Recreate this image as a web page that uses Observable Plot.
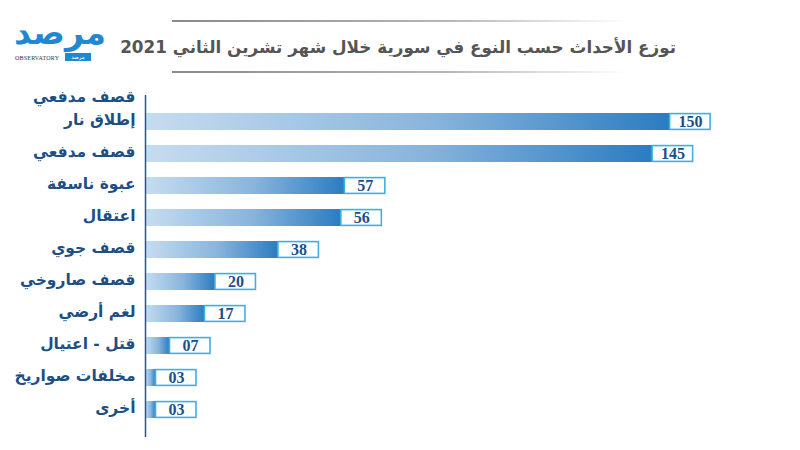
<!DOCTYPE html>
<html><head><meta charset="utf-8">
<script src="https://cdn.jsdelivr.net/npm/d3@7"></script>
<script src="https://cdn.jsdelivr.net/npm/@observablehq/plot@0.6"></script>
<style>
body{margin:0;background:#fff;width:800px;height:450px;overflow:hidden;font-family:"DejaVu Sans",sans-serif}
#header{position:relative;height:75px;width:800px}
.line{position:absolute;left:172px;width:455px;height:2px;background:linear-gradient(to right,#8a8a8a,#b5b5b5 60%,rgba(255,255,255,0))}
#title{position:absolute;right:124px;top:34px;font-size:16.8px;font-weight:bold;color:#555;direction:rtl;white-space:nowrap;line-height:26px}
#logo{position:absolute;left:14px;top:16px;width:78px;height:48px}
#logo .ar{position:absolute;left:0;top:-4px;width:78px;text-align:center;font-size:33px;font-weight:bold;color:#1e88d2;line-height:42px;letter-spacing:-3px}
#logo .en{position:absolute;left:1px;top:39px;font-size:6px;font-family:"Liberation Serif",serif;color:#333;letter-spacing:0.2px}
#logo .tag{position:absolute;left:51px;top:37px;width:26px;height:8px;background:#1e88d2;color:#fff;font-size:5.5px;line-height:8px;text-align:center}
#chart{position:absolute;left:0;top:75px}
</style></head><body>
<div id="header">
  <div class="line" style="top:20px"></div>
  <div class="line" style="top:71px"></div>
  <div id="title">توزع الأحداث حسب النوع في سورية خلال شهر تشرين الثاني 2021</div>
  <div id="logo"><div class="ar">مرصد</div><div class="en">OBSERVATORY</div><div class="tag">مرصد</div></div>
</div>
<div id="chart"></div>
<script>
const headerLabel = "قصف مدفعي";
const categories = ["إطلاق نار","قصف مدفعي","عبوة ناسفة","اعتقال","قصف جوي","قصف صاروخي","لغم أرضي","قتل - اعتيال","مخلفات صواريخ","أخرى"];
const values = [150,145,57,56,38,20,17,7,3,3];
const valueLabels = ["150","145","57","56","38","20","17","07","03","03"];

const data = categories.map((c, i) => ({category: c, value: values[i], label: valueLabels[i]}));
const navy = "#1d4f86";

const chart = Plot.plot({
  width: 800,
  height: 375,
  marginLeft: 145,
  marginRight: 8,
  marginTop: 20,
  marginBottom: 13,
  x: {domain: [0, 185], axis: null},
  y: {domain: categories, padding: 0.46, label: null},
  marks: [
    Plot.barX(data, {y: "category", x: "value", fill: "url(#barGrad)"}),
    Plot.barX(data, {y: "category", x1: "value", x2: "value", insetRight: -40.5, insetTop: 0.6, insetBottom: 0.6,
      fill: "white", stroke: "#3eb0e6", strokeWidth: 1.6}),
    Plot.text(data, {y: "category", x: "value", dx: 20.5, text: "label", fill: navy,
      fontFamily: "Liberation Serif", fontWeight: "bold", fontSize: 16}),
    Plot.ruleX([0], {stroke: "#1f5a96", strokeWidth: 1.5}),
    Plot.axisY({tickSize: 0, tickPadding: 10, fontSize: 15.5, fontWeight: "bold", fill: navy, fontFamily: "DejaVu Sans", dy: -2}),
    Plot.text([headerLabel], {x: 0, frameAnchor: "top", dx: -10, dy: -5, text: d => d, textAnchor: "end",
      fontSize: 15.5, fontWeight: "bold", fill: navy, fontFamily: "DejaVu Sans"})
  ]
});

const svg = d3.select(chart);
const defs = svg.insert("defs", ":first-child");
const g = defs.append("linearGradient").attr("id", "barGrad").attr("x1", "0").attr("x2", "1").attr("y1", "0").attr("y2", "0");
g.append("stop").attr("offset", "0%").attr("stop-color", "#c6dcf0");
g.append("stop").attr("offset", "55%").attr("stop-color", "#88b4dc");
g.append("stop").attr("offset", "100%").attr("stop-color", "#2c7cc0");
document.getElementById("chart").appendChild(chart);
</script>
</body></html>
